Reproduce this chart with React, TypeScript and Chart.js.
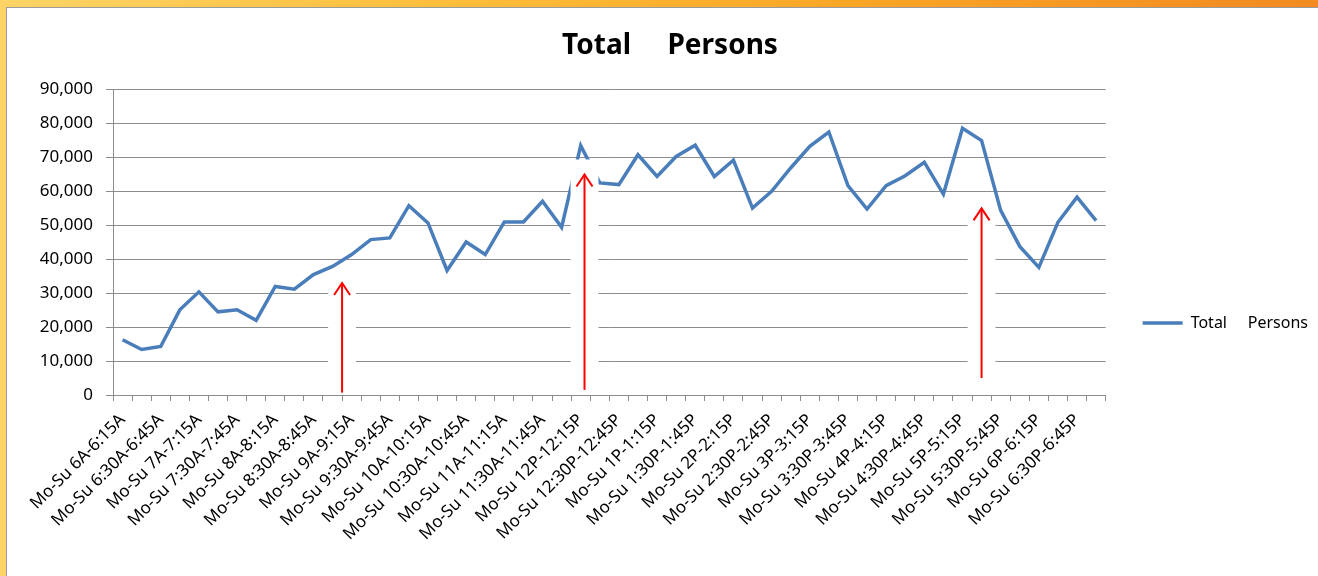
import React, { useEffect, useRef } from "react";
import { Chart, registerables } from "chart.js";

Chart.register(...registerables);

const categories: string[] = [
  "Mo-Su 6A-6:15A", "Mo-Su 6:15A-6:30A", "Mo-Su 6:30A-6:45A", "Mo-Su 6:45A-7A",
  "Mo-Su 7A-7:15A", "Mo-Su 7:15A-7:30A", "Mo-Su 7:30A-7:45A", "Mo-Su 7:45A-8A",
  "Mo-Su 8A-8:15A", "Mo-Su 8:15A-8:30A", "Mo-Su 8:30A-8:45A", "Mo-Su 8:45A-9A",
  "Mo-Su 9A-9:15A", "Mo-Su 9:15A-9:30A", "Mo-Su 9:30A-9:45A", "Mo-Su 9:45A-10A",
  "Mo-Su 10A-10:15A", "Mo-Su 10:15A-10:30A", "Mo-Su 10:30A-10:45A", "Mo-Su 10:45A-11A",
  "Mo-Su 11A-11:15A", "Mo-Su 11:15A-11:30A", "Mo-Su 11:30A-11:45A", "Mo-Su 11:45A-12P",
  "Mo-Su 12P-12:15P", "Mo-Su 12:15P-12:30P", "Mo-Su 12:30P-12:45P", "Mo-Su 12:45P-1P",
  "Mo-Su 1P-1:15P", "Mo-Su 1:15P-1:30P", "Mo-Su 1:30P-1:45P", "Mo-Su 1:45P-2P",
  "Mo-Su 2P-2:15P", "Mo-Su 2:15P-2:30P", "Mo-Su 2:30P-2:45P", "Mo-Su 2:45P-3P",
  "Mo-Su 3P-3:15P", "Mo-Su 3:15P-3:30P", "Mo-Su 3:30P-3:45P", "Mo-Su 3:45P-4P",
  "Mo-Su 4P-4:15P", "Mo-Su 4:15P-4:30P", "Mo-Su 4:30P-4:45P", "Mo-Su 4:45P-5P",
  "Mo-Su 5P-5:15P", "Mo-Su 5:15P-5:30P", "Mo-Su 5:30P-5:45P", "Mo-Su 5:45P-6P",
  "Mo-Su 6P-6:15P", "Mo-Su 6:15P-6:30P", "Mo-Su 6:30P-6:45P", "Mo-Su 6:45P-7P",
];

const totalPersons: number[] = [
  16300, 13400, 14300, 25100, 30400, 24500, 25100, 22000, 32000, 31200,
  35500, 37900, 41400, 45800, 46300, 55800, 50700, 36700, 45100, 41400,
  51000, 51000, 57100, 49400, 73500, 62500, 62000, 70800, 64400, 70300,
  73600, 64400, 69200, 55100, 60000, 66900, 73300, 77500, 61700, 54800,
  61700, 64600, 68600, 59200, 78600, 75000, 54400, 43800, 37600, 50900,
  58300, 51400,
];

const seriesLabel = "Total     Persons";
const chartTitle = "Total     Persons";

// red arrow annotations (category index, values)
const arrowIndex: number[] = [11.5, 24.2, 45];
const arrowTip: number[] = [33000, 65000, 55000];
const arrowBase: number[] = [700, 1500, 5000];
const arrowMaskTop: number[] = [30500, 69400, 53000];

const FONT = "'Noto Sans', 'DejaVu Sans', sans-serif";

const arrowPlugin = {
  id: "arrows",
  afterDatasetsDraw(chart: any) {
    const { ctx, scales } = chart;
    const xs = scales.x;
    const ys = scales.y;
    const catW = Math.abs(xs.getPixelForValue(1) - xs.getPixelForValue(0));
    ctx.save();
    for (let i = 0; i < arrowIndex.length; i++) {
      const i0 = Math.floor(arrowIndex[i]);
      const frac = arrowIndex[i] - i0;
      const x = xs.getPixelForValue(i0) + frac * catW;
      const yTip = ys.getPixelForValue(arrowTip[i]);
      const yBase = ys.getPixelForValue(arrowBase[i]);
      const yMask = ys.getPixelForValue(arrowMaskTop[i]);
      const half = catW * 0.73;
      ctx.fillStyle = "#ffffff";
      ctx.fillRect(x - half, yMask, half * 2, ys.getPixelForValue(0) - 1 - yMask);
      ctx.strokeStyle = "#ff0000";
      ctx.lineWidth = 2;
      ctx.beginPath();
      ctx.moveTo(x, yBase);
      ctx.lineTo(x, yTip);
      ctx.stroke();
      ctx.beginPath();
      ctx.moveTo(x - 8, yTip + 12);
      ctx.lineTo(x, yTip);
      ctx.lineTo(x + 8, yTip + 12);
      ctx.stroke();
    }
    ctx.restore();
  },
};

export default function App() {
  const ref = useRef<HTMLCanvasElement | null>(null);

  useEffect(() => {
    if (!ref.current) return;
    const chart = new Chart(ref.current, {
      type: "line",
      data: {
        labels: categories,
        datasets: [
          {
            label: seriesLabel,
            data: totalPersons,
            borderColor: "#4a7ebb",
            backgroundColor: "#4a7ebb",
            borderWidth: 3.5,
            pointRadius: 0,
            tension: 0,
            fill: false,
          },
        ],
      },
      options: {
        animation: false,
        responsive: false,
        devicePixelRatio: 1,
        layout: { padding: { left: 22, right: 0, top: 0, bottom: 0 } },
        plugins: {
          title: {
            display: true,
            text: chartTitle,
            color: "#000000",
            font: { family: FONT, size: 28, weight: "bold" },
            padding: { top: 29, bottom: 27 },
          },
          legend: {
            display: true,
            position: "right",
            title: {
              display: true,
              text: " ",
              font: { family: FONT, size: 10 },
              padding: { top: 29, bottom: 29 },
            },
            labels: {
              usePointStyle: true,
              pointStyle: "line",
              pointStyleWidth: 40,
              padding: 37,
              color: "#000000",
              font: { family: FONT, size: 16 },
            },
          },
          tooltip: { enabled: false },
        },
        scales: {
          x: {
            offset: true,
            afterFit: (s: any) => {
              s.height = 181;
            },
            grid: {
              offset: true,
              drawOnChartArea: false,
              drawTicks: true,
              tickLength: 6,
              color: "#8c8c8c",
            },
            border: { display: true, color: "#8c8c8c", width: 1 },
            ticks: {
              autoSkip: false,
              maxRotation: 45,
              minRotation: 45,
              padding: 9,
              color: "#000000",
              font: { family: FONT, size: 17 },
              callback: (_v: any, i: number) => (i % 2 === 0 ? categories[i] : ""),
            },
          },
          y: {
            min: 0,
            max: 90000,
            afterFit: (s: any) => {
              s.width = 91;
            },
            grid: {
              color: "#8c8c8c",
              lineWidth: 1,
              drawTicks: true,
              tickLength: 7,
            },
            border: { display: true, color: "#8c8c8c", width: 1 },
            ticks: {
              stepSize: 10000,
              padding: 13,
              color: "#000000",
              font: { family: FONT, size: 17 },
              callback: (v: any) => Number(v).toLocaleString("en-US"),
            },
          },
        },
      },
      plugins: [arrowPlugin],
    });
    return () => chart.destroy();
  }, []);

  return (
    <div
      style={{
        position: "fixed",
        left: 0,
        top: 0,
        width: 1318,
        height: 576,
        overflow: "hidden",
        background:
          "linear-gradient(90deg, #ffd466 0%, #fcbd3a 35%, #f9a526 65%, #f28a20 100%)",
      }}
    >
      <div
        style={{
          position: "absolute",
          left: 6,
          top: 7,
          right: -2,
          bottom: -2,
          background: "#ffffff",
          borderLeft: "1px solid #9a9a9a",
          borderTop: "1px solid #9a9a9a",
        }}
      />
      <canvas
        ref={ref}
        width={1318}
        height={576}
        style={{ position: "absolute", left: 0, top: 0, width: 1318, height: 576 }}
      />
    </div>
  );
}
